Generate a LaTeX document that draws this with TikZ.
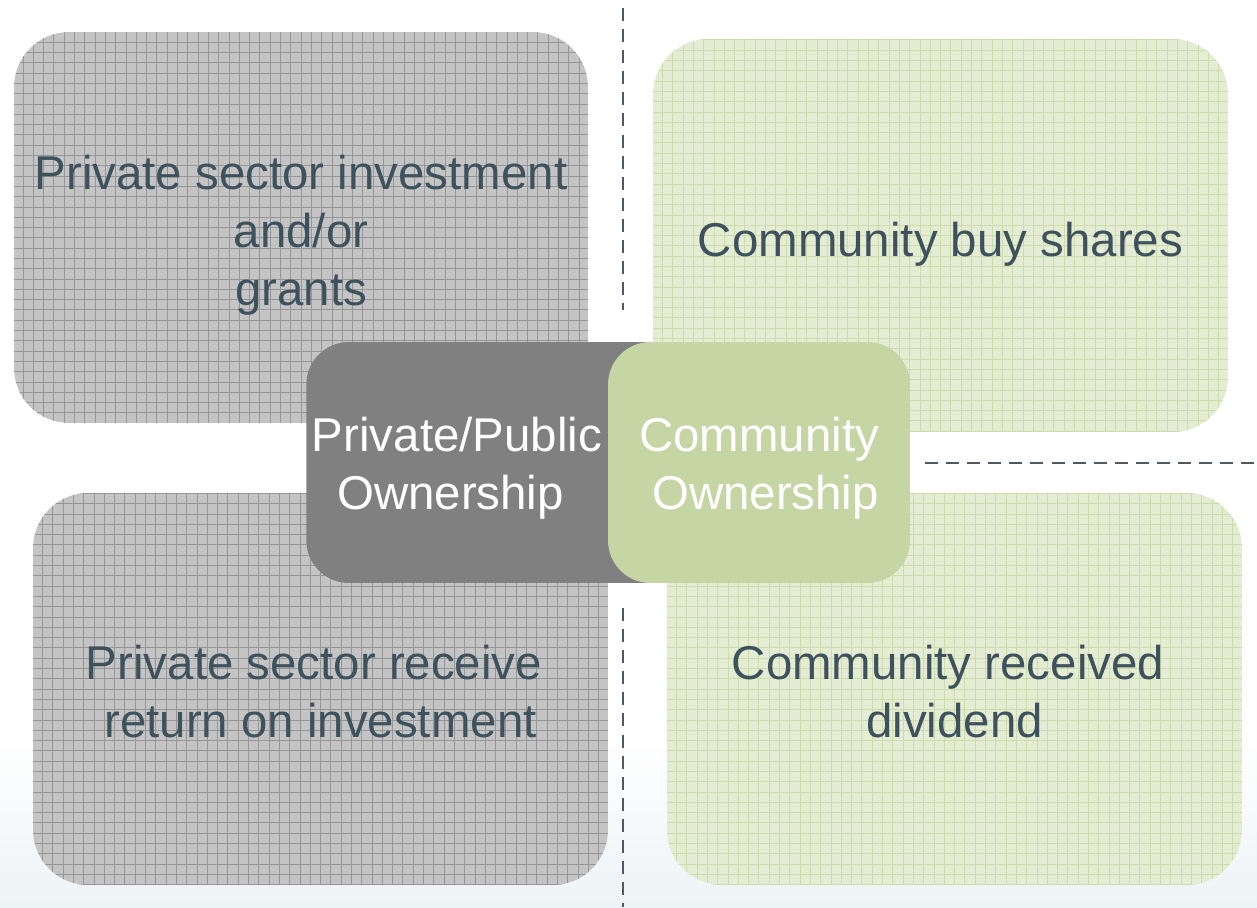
\documentclass[tikz,border=0pt]{standalone}
\usepackage{fontspec}
\setmainfont{Liberation Sans}
\definecolor{txt}{RGB}{62,82,94}
\definecolor{qgray}{RGB}{196,196,196}
\definecolor{qgrayline}{RGB}{150,150,150}
\definecolor{qgreen}{RGB}{229,236,212}
\definecolor{qgreenline}{RGB}{205,220,172}
\definecolor{cgray}{RGB}{128,128,128}
\definecolor{cgreen}{RGB}{197,213,164}
\definecolor{divc}{RGB}{74,90,102}
\definecolor{mist}{RGB}{238,243,246}
\begin{document}
\begin{tikzpicture}[x=0.02cm,y=-0.02cm,
  quad/.style={rectangle, rounded corners=1.1cm, inner sep=0pt},
  qtext/.style={inner sep=0pt, align=center, text=txt, font=\fontsize{27}{33}\selectfont},
  grayquad/.style={quad, fill=qgray, minimum width=11.5cm, minimum height=7.84cm,
    path picture={\draw[qgrayline, line width=0.45pt]
      (path picture bounding box.south west) grid[step=0.206cm]
      (path picture bounding box.north east);}},
  greenquad/.style={quad, fill=qgreen, minimum width=11.5cm, minimum height=7.86cm,
    path picture={\draw[qgreenline, line width=0.45pt]
      (path picture bounding box.south west) grid[step=0.206cm]
      (path picture bounding box.north east);}},
  cbox/.style={rectangle, rounded corners=0.85cm, inner sep=0pt, minimum height=4.82cm},
  ctext/.style={inner sep=0pt, align=center, text=white, font=\fontsize{27}{33}\selectfont},
  divider/.style={divc, line width=1.4pt, dash pattern=on 7.4pt off 4.6pt}
]
\useasboundingbox (0,0) rectangle (1257,907);
% faint background at the bottom
\shade[top color=white, bottom color=mist] (0,740) rectangle (1257,907);

% quadrant boxes
\node[grayquad, minimum width=11.48cm, minimum height=7.82cm] (tl) at (301,227.5) {};
\node[qtext] (tlt) at (301,235) {Private sector investment\\and/or\\grants};
\node[greenquad] (tr) at (940.5,235.5) {};
\node[qtext] (trt) at (940.5,244.5) {Community buy shares};
\node[grayquad] (bl) at (320.5,689) {};
\node[qtext] (blt) at (320.5,692) {Private sector receive\hspace*{0.26cm}\\return on investment};
\node[greenquad, minimum height=7.84cm] (br) at (954.5,689) {};
\node[qtext] (brt) at (954.5,692) {Community received\hspace*{0.26cm}\\dividend};

% dividers
\coordinate (vta) at (623,8);
\coordinate (vtb) at (623,310);
\coordinate (vba) at (623,608);
\coordinate (vbb) at (623,907);
\coordinate (ha) at (925,463);
\coordinate (hb) at (1257,463);
\draw[divider] (vta) -- (vtb);
\draw[divider] (vba) -- (vbb);
\draw[divider] (ha) -- (hb);

% centre boxes
\node[cbox, fill=cgray, minimum width=7.88cm, anchor=west] (pp) at (306,462.5) {};
\node[ctext] (ppt) at (457,468.5) {Private/Public\\Ownership\hspace*{0.26cm}};
\node[cbox, fill=cgreen, minimum width=6.04cm] (co) at (759,462.5) {};
\node[ctext] (cot) at (759,468.5) {Community\\\hspace*{0.26cm}Ownership};
\end{tikzpicture}
\end{document}
